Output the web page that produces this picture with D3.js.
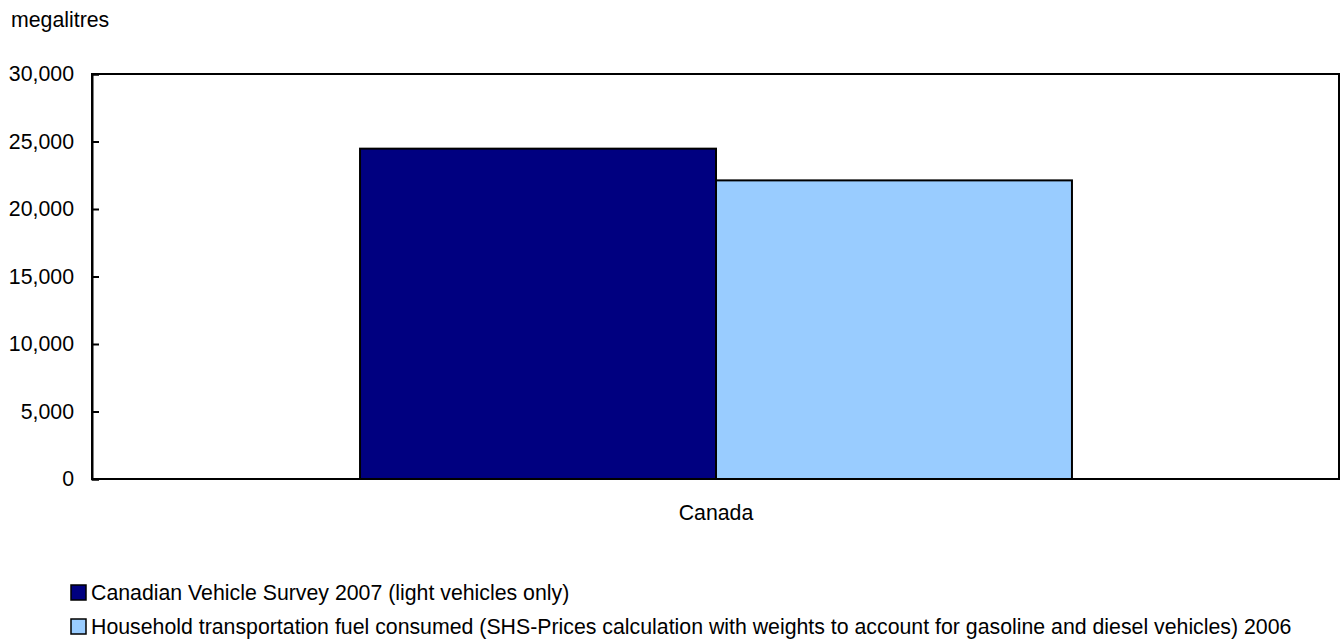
<!DOCTYPE html>
<html>
<head>
<meta charset="utf-8">
<script src="https://cdn.jsdelivr.net/npm/d3@7"></script>
<style>
  html, body { margin: 0; padding: 0; background: #fff; }
  svg { display: block; font-family: "Liberation Sans", Arial, sans-serif; }
</style>
</head>
<body>
<svg id="chart" width="1341" height="641"></svg>
<script>
// Fuel consumption, Canada (megalitres)
const categories = ["Canada"];
const seriesNames = [
  "Canadian Vehicle Survey 2007 (light vehicles only)",
  "Household transportation fuel consumed (SHS-Prices calculation with weights to account for gasoline and diesel vehicles) 2006"
];
const seriesValues = [24470, 22120];
const seriesColors = ["#000080", "#99CCFF"];
const yTicks = [0, 5000, 10000, 15000, 20000, 25000, 30000];
const yUnit = "megalitres";

const svg = d3.select("#chart");
const fontSize = 21.3;
const margin = { left: 92, right: 1, top: 74, bottom: 162 };
const W = 1341, H = 641;

const x0 = d3.scaleBand().domain(categories).range([margin.left, W - margin.right]).padding(0);
const x1 = d3.scaleBand().domain(seriesNames).range([0, x0.bandwidth()])
  .paddingInner(0).paddingOuter(0.753);
const y = d3.scaleLinear().domain([0, 30000]).range([H - margin.bottom, margin.top]);

// unit label
svg.append("text")
  .attr("x", 11).attr("y", 27)
  .attr("font-size", fontSize).attr("fill", "#000")
  .text(yUnit);

// bars
const g = svg.append("g");
categories.forEach(cat => {
  seriesNames.forEach((s, i) => {
    g.append("rect")
      .attr("x", x0(cat) + x1(s))
      .attr("y", y(seriesValues[i]))
      .attr("width", x1.bandwidth())
      .attr("height", y(0) - y(seriesValues[i]))
      .attr("fill", seriesColors[i])
      .attr("stroke", "#000")
      .attr("stroke-width", 2);
  });
});

// plot frame
svg.append("rect")
  .attr("x", margin.left).attr("y", margin.top)
  .attr("width", W - margin.right - margin.left - 1)
  .attr("height", y(0) - margin.top)
  .attr("fill", "none").attr("stroke", "#000").attr("stroke-width", 2);

// y axis with inward ticks
const yAxis = d3.axisLeft(y).tickValues(yTicks)
  .tickFormat(d3.format(","))
  .tickSize(-7).tickPadding(18);
const ya = svg.append("g").attr("transform", `translate(${margin.left},0)`).call(yAxis);
ya.select(".domain").attr("stroke", "#000").attr("stroke-width", 2);
ya.selectAll(".tick line").attr("stroke", "#000").attr("stroke-width", 2);
ya.selectAll(".tick text").attr("font-size", fontSize).attr("fill", "#000")
  .attr("font-family", "Liberation Sans, Arial, sans-serif");

// x axis category label
const xAxis = d3.axisBottom(x0).tickSize(0).tickPadding(26);
const xa = svg.append("g").attr("transform", `translate(0,${y(0)})`).call(xAxis);
xa.select(".domain").remove();
xa.selectAll(".tick text").attr("font-size", fontSize).attr("fill", "#000")
  .attr("font-family", "Liberation Sans, Arial, sans-serif");

// legend
const legend = svg.append("g");
seriesNames.forEach((s, i) => {
  const ly = 593 + i * 34;
  legend.append("rect")
    .attr("x", 71).attr("y", ly - 8)
    .attr("width", 15).attr("height", 15)
    .attr("fill", seriesColors[i]).attr("stroke", "#000").attr("stroke-width", 1.5);
  legend.append("text")
    .attr("x", 91).attr("y", ly)
    .attr("dy", "0.35em")
    .attr("font-size", fontSize).attr("fill", "#000")
    .text(s);
});
</script>
</body>
</html>
